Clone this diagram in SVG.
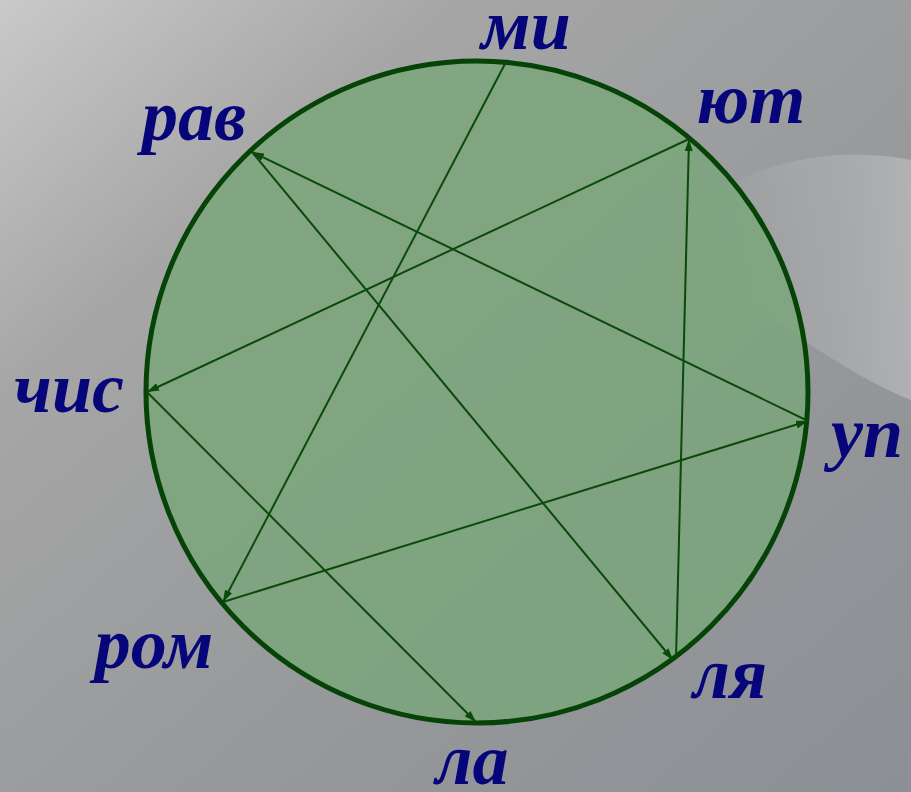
<svg xmlns="http://www.w3.org/2000/svg" width="911" height="792" viewBox="0 0 911 792">
<defs>
<linearGradient id="bg" x1="0" y1="0" x2="1" y2="1">
<stop offset="0" stop-color="#c9c9c9"/>
<stop offset="0.25" stop-color="#a6a6a6"/>
<stop offset="0.6" stop-color="#97999b"/>
<stop offset="1" stop-color="#8c8f95"/>
</linearGradient>
<linearGradient id="swoosh" x1="0" y1="0" x2="1" y2="0">
<stop offset="0" stop-color="#c8c8c8" stop-opacity="0"/>
<stop offset="0.6" stop-color="#b8b9bb" stop-opacity="0.45"/>
<stop offset="1" stop-color="#c2c3c5" stop-opacity="0.6"/>
</linearGradient>
<marker id="ah" viewBox="0 0 12 8" refX="12" refY="4" markerWidth="12" markerHeight="8" markerUnits="userSpaceOnUse" orient="auto">
<path d="M0,0 L12,4 L0,8 z" fill="#0b4a0b"/>
</marker>
<style>
.lbl{font-family:"Liberation Serif","DejaVu Serif",serif;font-style:italic;font-weight:bold;font-size:72px;fill:#06067a;text-anchor:middle}
.edge{stroke:#0b4a0b;stroke-width:2;fill:none;marker-end:url(#ah)}
</style>
</defs>
<rect width="911" height="792" fill="url(#bg)"/>
<path d="M720,190 C790,150 860,150 911,160 L911,400 C860,380 800,340 720,280 z" fill="url(#swoosh)"/>
<g id="circle">
<circle cx="477" cy="392" r="331" fill="#7aa67a" fill-opacity="0.82" stroke="#064306" stroke-width="5"/>
</g>
<g id="connectors">
<line class="edge" x1="506" y1="62" x2="223" y2="602"/>
<line class="edge" x1="223" y1="602" x2="808" y2="421"/>
<line class="edge" x1="808" y1="421" x2="252" y2="152"/>
<line class="edge" x1="252" y1="152" x2="673" y2="660"/>
<line class="edge" x1="676" y1="659" x2="689" y2="139"/>
<line class="edge" x1="689" y1="139" x2="147" y2="392"/>
<line class="edge" x1="147" y1="392" x2="476" y2="722"/>
</g>
<g id="n-mi"><text class="lbl" x="526" y="49">ми</text></g>
<g id="n-rav"><text class="lbl" x="194" y="140">рав</text></g>
<g id="n-yut"><text class="lbl" x="751" y="123">ют</text></g>
<g id="n-chis"><text class="lbl" x="69" y="412">чис</text></g>
<g id="n-up"><text class="lbl" x="867" y="457">уп</text></g>
<g id="n-rom"><text class="lbl" x="154" y="668">ром</text></g>
<g id="n-lya"><text class="lbl" x="730" y="698">ля</text></g>
<g id="n-la"><text class="lbl" x="472" y="784">ла</text></g>
</svg>
